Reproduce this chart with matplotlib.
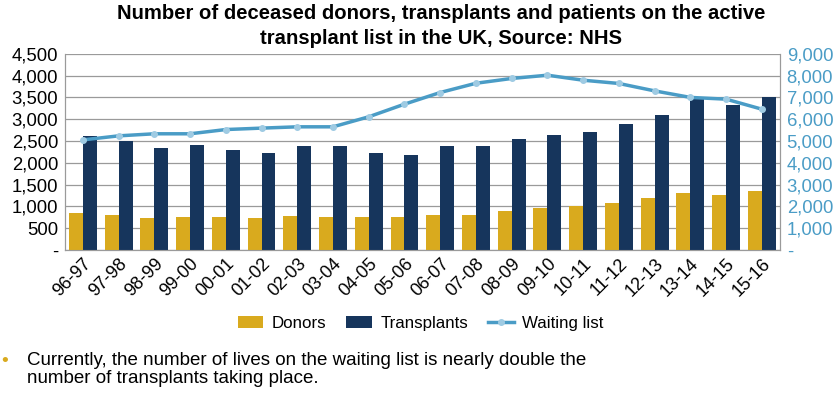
import numpy as np
import matplotlib
matplotlib.use("Agg")
import matplotlib.pyplot as plt
from matplotlib.ticker import FuncFormatter

plt.rcParams['font.family'] = ['Liberation Sans', 'DejaVu Sans']

years = ["96-97", "97-98", "98-99", "99-00", "00-01", "01-02", "02-03", "03-04", "04-05", "05-06",
         "06-07", "07-08", "08-09", "09-10", "10-11", "11-12", "12-13", "13-14", "14-15", "15-16"]
donors = [850, 790, 730, 765, 765, 735, 770, 765, 745, 760,
          790, 805, 890, 950, 1000, 1080, 1200, 1310, 1270, 1355]
transplants = [2610, 2510, 2350, 2410, 2300, 2235, 2375, 2380, 2230, 2180,
               2375, 2375, 2550, 2640, 2695, 2900, 3100, 3485, 3320, 3505]
waiting = [5050, 5235, 5330, 5330, 5525, 5590, 5650, 5650, 6110, 6690,
           7225, 7650, 7870, 8020, 7790, 7640, 7300, 7000, 6920, 6460]

gold = "#d9aa1e"
navy = "#16355c"
teal = "#4a9cc6"

fig = plt.figure(figsize=(8.33, 3.96), dpi=100)
ax = fig.add_axes([0.078, 0.369, 0.858, 0.495])
ax2 = ax.twinx()

x = np.arange(len(years))
w = 0.39
ax.bar(x - w/2, donors, w, color=gold, label="Donors", zorder=3)
ax.bar(x + w/2, transplants, w, color=navy, label="Transplants", zorder=3)
ax2.plot(x, waiting, color=teal, lw=2.5, marker="o", ms=4, mfc="#9fcbe3", mec="#9fcbe3",
         label="Waiting list", zorder=4)

def fmt(v, pos):
    return "-" if v == 0 else "{:,.0f}".format(v)

ax.set_ylim(0, 4500)
ax.set_yticks(np.arange(0, 4501, 500))
ax.yaxis.set_major_formatter(FuncFormatter(fmt))
ax2.set_ylim(0, 9000)
ax2.set_yticks(np.arange(0, 9001, 1000))
ax2.yaxis.set_major_formatter(FuncFormatter(fmt))
ax.set_xlim(-0.5, len(years) - 0.5)
ax.set_xticks(x)
ax.set_xticklabels(years, rotation=45, ha="right", rotation_mode="anchor", fontsize=13)

ax.grid(axis="y", color="#9a9a9a", lw=0.9, zorder=0)
ax.set_axisbelow(True)
for a in (ax, ax2):
    a.spines["top"].set_visible(False)
    for s in ("left", "right", "bottom"):
        a.spines[s].set_color("#9a9a9a")
ax.tick_params(axis="y", length=0, labelsize=13.3, pad=5)
ax.tick_params(axis="x", length=0, pad=4)
ax2.tick_params(axis="y", length=0, labelsize=13.3, labelcolor=teal, pad=5)

fig.text(0.53, 0.99, "Number of deceased donors, transplants and patients on the active\n"
         "transplant list in the UK, Source: NHS", ha="center", va="top",
         fontsize=14.6, fontweight="bold", linespacing=1.4)

h1, l1 = ax.get_legend_handles_labels()
h2, l2 = ax2.get_legend_handles_labels()
fig.legend(h1 + h2, l1 + l2, loc="center", bbox_to_anchor=(0.505, 0.183), ncol=3,
           frameon=False, fontsize=12.2, handlelength=1.5, handleheight=0.7, columnspacing=1.2,
           handletextpad=0.5)

fig.text(0.001, 0.088, "\u2022", color=gold, fontsize=14, va="center")
fig.text(0.032, 0.11, "Currently, the number of lives on the waiting list is nearly double the\n"
         "number of transplants taking place.", fontsize=13.5, va="top", ha="left",
         linespacing=1.08)

fig.savefig("out.png", dpi=100)
